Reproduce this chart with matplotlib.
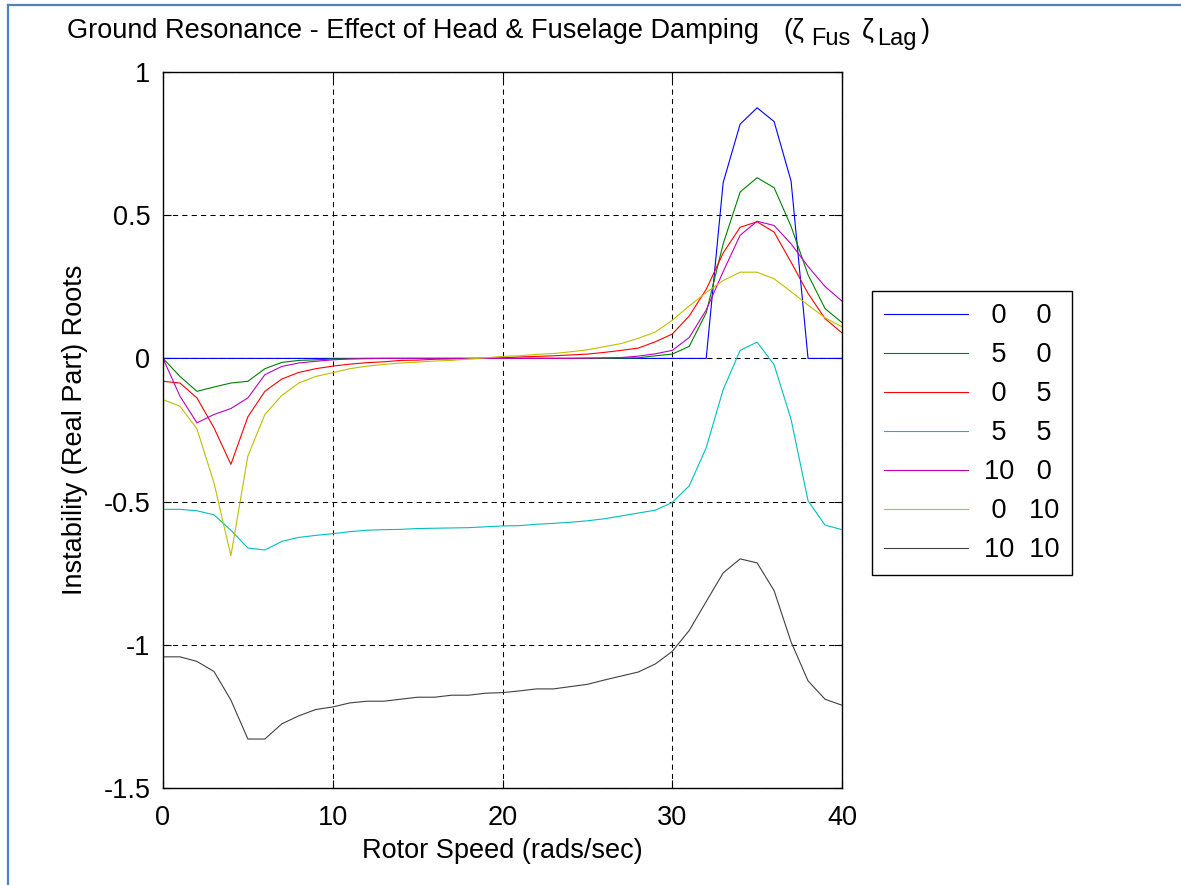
import numpy as np
import matplotlib
matplotlib.use('Agg')
import matplotlib.pyplot as plt
from matplotlib.lines import Line2D

plt.rcParams['font.family'] = ['Liberation Sans', 'DejaVu Sans']

# ---- data ----
rotorSpeed = list(range(0, 41))

zetaFus = [0, 5, 0, 5, 10, 0, 10]
zetaLag = [0, 0, 5, 5, 0, 10, 10]

root_0_0 = [0, 0, 0, 0, 0, 0, 0, 0, 0, 0,
            0, 0, 0, 0, 0, 0, 0, 0, 0, 0,
            0, 0, 0, 0, 0, 0, 0, 0, 0, 0,
            0, 0, 0, 0.614, 0.818, 0.875, 0.827, 0.619, 0, 0,
            0]
root_5_0 = [0, -0.063, -0.115, -0.100, -0.086, -0.080, -0.036, -0.014, -0.007, -0.005,
            -0.002, -0.001, 0, 0, 0, 0, 0, 0, 0, 0,
            0, 0, 0, 0, 0, 0, 0, 0.001, 0.002, 0.009,
            0.015, 0.042, 0.159, 0.400, 0.581, 0.631, 0.596, 0.461, 0.292, 0.174,
            0.125]
root_0_5 = [-0.080, -0.086, -0.138, -0.242, -0.370, -0.204, -0.115, -0.072, -0.049, -0.036,
            -0.027, -0.020, -0.015, -0.012, -0.007, -0.006, -0.003, -0.002, -0.001, 0,
            0.002, 0.005, 0.007, 0.009, 0.012, 0.015, 0.021, 0.028, 0.036, 0.058,
            0.085, 0.148, 0.241, 0.368, 0.458, 0.477, 0.441, 0.336, 0.227, 0.139,
            0.089]
root_5_5 = [-0.527, -0.527, -0.532, -0.546, -0.600, -0.662, -0.669, -0.639, -0.625, -0.618,
            -0.612, -0.605, -0.600, -0.598, -0.597, -0.594, -0.593, -0.592, -0.591, -0.588,
            -0.585, -0.584, -0.579, -0.576, -0.572, -0.567, -0.560, -0.550, -0.540, -0.530,
            -0.503, -0.445, -0.312, -0.109, 0.028, 0.057, -0.022, -0.213, -0.497, -0.582,
            -0.598]
root_10_0 = [0, -0.132, -0.225, -0.196, -0.175, -0.138, -0.057, -0.028, -0.016, -0.010,
             -0.005, -0.002, -0.001, 0, 0, 0, 0, 0, 0, 0,
             0, 0, 0, 0, 0, 0.001, 0.002, 0.003, 0.008, 0.016,
             0.028, 0.073, 0.169, 0.303, 0.430, 0.479, 0.464, 0.400, 0.321, 0.251,
             0.200]
root_0_10 = [-0.144, -0.167, -0.246, -0.434, -0.689, -0.341, -0.196, -0.129, -0.086, -0.063,
             -0.050, -0.036, -0.027, -0.021, -0.016, -0.013, -0.009, -0.007, -0.002, 0.002,
             0.007, 0.009, 0.014, 0.017, 0.023, 0.030, 0.041, 0.052, 0.070, 0.092,
             0.133, 0.183, 0.230, 0.272, 0.301, 0.301, 0.278, 0.233, 0.186, 0.142,
             0.110]
root_10_10 = [-1.042, -1.042, -1.058, -1.093, -1.193, -1.329, -1.329, -1.276, -1.248, -1.226,
              -1.217, -1.203, -1.197, -1.197, -1.190, -1.183, -1.183, -1.176, -1.176, -1.169,
              -1.167, -1.161, -1.154, -1.154, -1.146, -1.138, -1.123, -1.109, -1.095, -1.067,
              -1.023, -0.950, -0.849, -0.749, -0.700, -0.714, -0.811, -0.990, -1.126, -1.190,
              -1.211]

series = [root_0_0, root_5_0, root_0_5, root_5_5, root_10_0, root_0_10, root_10_10]
colours = [(0, 0, 1), (0, 0.5, 0), (1, 0, 0), (0, 0.75, 0.75),
           (0.75, 0, 0.75), (0.75, 0.75, 0), (0.25, 0.25, 0.25)]

xTicks = [0, 10, 20, 30, 40]
yTicks = [-1.5, -1, -0.5, 0, 0.5, 1]
yTickLabels = ['-1.5', '-1', '-0.5', '0', '0.5', '1']

fontSize = 19.5
subSize = 17


def padNum(v):
    # centre single digits on the width of two digits
    s = str(v)
    return s if len(s) == 2 else ' ' + s + ' '


W, H = 1181, 885
fig = plt.figure(figsize=(W / 100, H / 100), dpi=100)
ax = fig.add_axes([163 / W, 1 - 788 / H, (842 - 163) / W, (788 - 72) / H])

for vals, col, zf, zl in zip(series, colours, zetaFus, zetaLag):
    ax.plot(rotorSpeed, vals, color=col, linewidth=0.8,
            label=padNum(zf) + '  ' + padNum(zl))

ax.set_xlim(0, 40)
ax.set_ylim(-1.5, 1)
ax.set_xticks(xTicks)
ax.set_yticks(yTicks)
ax.set_yticklabels(yTickLabels)
ax.grid(True, color='black', linestyle=(0, (5, 4)), linewidth=0.75)
ax.tick_params(direction='in', top=True, right=True, length=6, width=0.8,
               labelsize=fontSize, pad=9)
ax.tick_params(axis='x', pad=12)
for sp in ax.spines.values():
    sp.set_linewidth(1.0)

ax.set_xlabel('Rotor Speed (rads/sec)', fontsize=fontSize, va='center')
ax.xaxis.set_label_coords(0.5, (788 - 851) / 716)
ax.set_ylabel('Instability (Real Part) Roots', fontsize=fontSize, va='center')
ax.yaxis.set_label_coords((75 - 163) / 679, 0.5)

# title, built from pieces so the subscripts sit like the MATLAB ones
titleBase = 1 - 38 / H
subBase = 1 - 45 / H
fig.text(67 / W, titleBase, 'Ground Resonance - Effect of Head & Fuselage Damping',
         fontsize=fontSize, ha='left', va='baseline')
fig.text(783 / W, titleBase, '(\u03b6', fontsize=fontSize, ha='left', va='baseline')
fig.text(811 / W, subBase, 'Fus', fontsize=subSize, ha='left', va='baseline')
fig.text(862 / W, titleBase, '\u03b6', fontsize=fontSize, ha='left', va='baseline')
fig.text(877 / W, subBase, 'Lag', fontsize=subSize, ha='left', va='baseline')
fig.text(921 / W, titleBase, ')', fontsize=fontSize, ha='left', va='baseline')

leg = ax.legend(loc='upper left', bbox_to_anchor=(872 / W, 1 - 291 / H),
                bbox_transform=fig.transFigure, borderaxespad=0,
                fontsize=fontSize, frameon=True, fancybox=False,
                edgecolor='black', framealpha=1, borderpad=0.45,
                labelspacing=0.48, handlelength=3.1, handletextpad=0.6)
leg.get_frame().set_linewidth(1.0)

# blue page border (top and left)
borderCol = (0.31, 0.506, 0.741)
fig.add_artist(Line2D([7.5 / W, 7.5 / W], [0, 1 - 4.5 / H], transform=fig.transFigure,
                      color=borderCol, linewidth=1.6))
fig.add_artist(Line2D([7.5 / W, 1], [1 - 4.5 / H, 1 - 4.5 / H], transform=fig.transFigure,
                      color=borderCol, linewidth=1.6))

fig.savefig('out.png', dpi=100)
